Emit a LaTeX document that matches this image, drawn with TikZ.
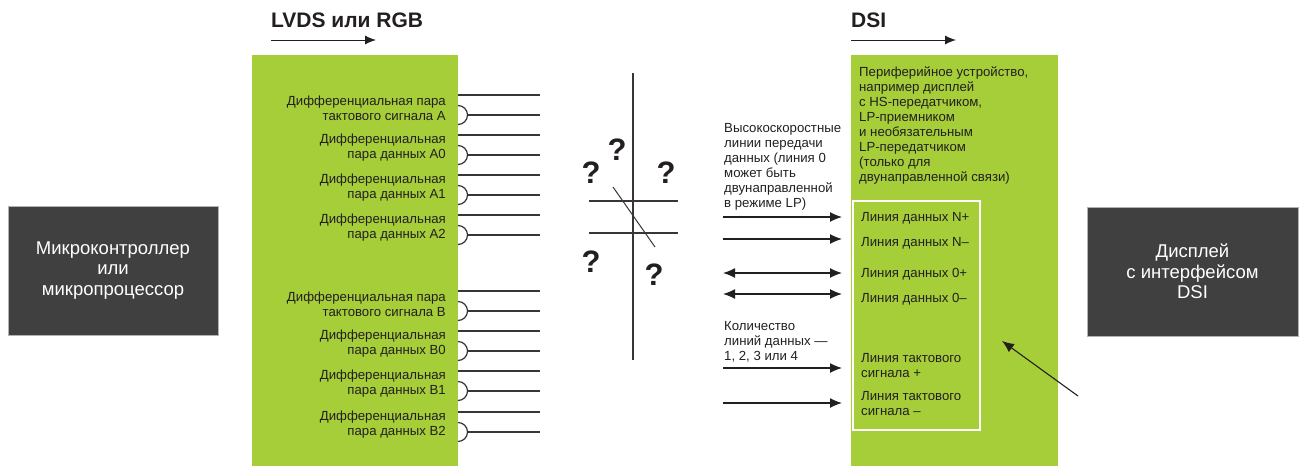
\documentclass[tikz,border=0pt]{standalone}
\usepackage{fontspec}
\setmainfont{Liberation Sans}
\usetikzlibrary{positioning,arrows.meta}
\definecolor{lime}{HTML}{A6CE39}
\definecolor{chipgray}{HTML}{404040}
\definecolor{ink}{HTML}{231F20}
\tikzset{
  chipbox/.style={fill=chipgray,draw=gray!60,text=white,align=center,
    minimum width=210pt,minimum height=129pt,inner sep=0pt,
    font=\fontsize{18.5}{20.5}\selectfont},
  greenbox/.style={fill=lime,draw=none,anchor=north west,inner sep=0pt},
  lbl/.style={text=ink,inner sep=0pt,font=\fontsize{13.2}{15}\selectfont},
  head/.style={text=ink,inner sep=0pt,font=\bfseries\fontsize{21}{24}\selectfont},
  quest/.style={text=ink,inner sep=0pt,font=\bfseries\fontsize{31}{31}\selectfont},
  wire/.style={draw=ink!90,line width=1.2pt},
  sig/.style={draw=ink,line width=1.3pt,-{Latex[length=12pt,width=10pt]}},
  sigboth/.style={sig,{Latex[length=12pt,width=10pt]}-{Latex[length=12pt,width=10pt]}}
}
\begin{document}
\begin{tikzpicture}[x=1pt,y=-1pt]
    \useasboundingbox (0,0) rectangle (1299,466);
    % titles
    \node[head,anchor=west] (lvdstitle) at (271,20) {LVDS или RGB};
    \node[head,anchor=west] (dsititle) at (851,20) {DSI};
    \coordinate (la0) at (271,40); \coordinate (la1) at (376,40);
    \coordinate (da0) at (851,40); \coordinate (da1) at (956,40);
    \draw[sig,line width=1pt,-{Latex[length=11pt,width=9pt]}] (la0) -- (la1);
    \draw[sig,line width=1pt,-{Latex[length=11pt,width=9pt]}] (da0) -- (da1);
    % outer blocks
    \node[chipbox] (mcu) at (113,270.5) {Микроконтроллер\\или\\микропроцессор};
    \node[chipbox,minimum width=211pt] (disp) at (1192.5,271.5) {Дисплей\\с интерфейсом\\DSI};
    \node[greenbox,minimum width=206pt,minimum height=411pt] (lvds) at (252,55) {};
    \node[greenbox,minimum width=207pt,minimum height=411pt] (dsi) at (851,55) {};
    \node[greenbox,draw=white,line width=2pt,minimum width=127pt,minimum height=229pt] (lanes) at (852,200) {};
    % differential pairs
    \foreach \t/\txt [count=\i] in {
        95/{Дифференциальная пара\\тактового сигнала A},
        135/{Дифференциальная\\пара данных A0},
        175/{Дифференциальная\\пара данных A1},
        215/{Дифференциальная\\пара данных A2},
        291/{Дифференциальная пара\\тактового сигнала B},
        331/{Дифференциальная\\пара данных B0},
        371/{Дифференциальная\\пара данных B1},
        412/{Дифференциальная\\пара данных B2}} {
      \pgfmathsetmacro{\b}{\t+20}
      \coordinate (ps\i) at (458,\t);
      \coordinate (pe\i) at (540,\t);
      \coordinate (ns\i) at (458,\b-9.5);
      \coordinate (nm\i) at (467.5,\b);
      \coordinate (ne\i) at (540,\b);
      \node[lbl,align=right,anchor=east] (pair\i) at (446,\b-7) {\txt};
      \draw[wire] (ps\i) -- (pe\i);
      \draw[wire] (ns\i) arc[start angle=90,end angle=-90,radius=9.5pt];
      \draw[wire] (nm\i) -- (ne\i);
    }
    % crossed-out link
    \coordinate (v0) at (633,73); \coordinate (v1) at (633,360);
    \coordinate (h0) at (589,201); \coordinate (h1) at (678,201);
    \coordinate (g0) at (589,233); \coordinate (g1) at (678,233);
    \coordinate (s0) at (613,187); \coordinate (s1) at (655,247);
    \draw[wire] (v0) -- (v1);
    \draw[wire] (h0) -- (h1);
    \draw[wire] (g0) -- (g1);
    \draw[wire,line width=1pt] (s0) -- (s1);
    \node[quest] (q1) at (617,150) {?};
    \node[quest] (q2) at (591,173) {?};
    \node[quest] (q3) at (666,173) {?};
    \node[quest] (q4) at (591,262) {?};
    \node[quest] (q5) at (654,275) {?};
    % DSI side
    \node[lbl,align=left,anchor=west] (periph) at (859,125.5)
      {Периферийное устройство,\\например дисплей\\с HS-передатчиком,\\LP-приемником\\и необязательным\\LP-передатчиком\\(только для\\двунаправленной связи)};
    \node[lbl,align=left,anchor=west] (hsnote) at (724,166.5)
      {Высокоскоростные\\линии передачи\\данных (линия 0\\может быть\\двунаправленной\\в режиме LP)};
    \node[lbl,align=left,anchor=west] (lanecount) at (724,342)
      {Количество\\линий данных —\\1, 2, 3 или 4};
    \node[lbl,anchor=west] (dnp) at (861,218) {Линия данных N+};
    \node[lbl,anchor=west] (dnm) at (861,243) {Линия данных N–};
    \node[lbl,anchor=west] (d0p) at (861,274) {Линия данных 0+};
    \node[lbl,anchor=west] (d0m) at (861,299) {Линия данных 0–};
    \node[lbl,align=left,anchor=west] (ckp) at (861,365.5) {Линия тактового\\сигнала +};
    \node[lbl,align=left,anchor=west] (ckm) at (861,403.5) {Линия тактового\\сигнала –};
    \foreach \y/\st [count=\i] in {217/sig,239/sig,273/sigboth,294/sigboth,368/sig,403/sig} {
      \coordinate (a\i) at (723,\y);
      \coordinate (b\i) at (842,\y);
      \draw[\st] (a\i) -- (b\i);
    }
    \coordinate (pt) at (1078,396);
    \coordinate (pt') at (1002,341);
    \draw[sig,line width=1.1pt] (pt) -- (pt');
\end{tikzpicture}
\end{document}
